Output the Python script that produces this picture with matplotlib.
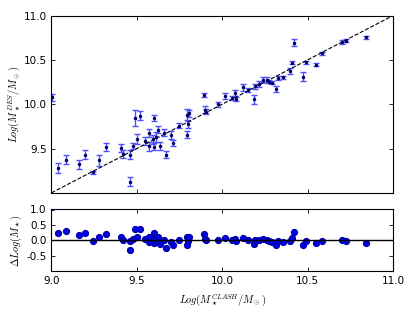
import numpy as np
import matplotlib
matplotlib.use("Agg")
import matplotlib.pyplot as plt

plt.rcParams['mathtext.fontset'] = 'cm'
plt.rcParams['xtick.direction'] = 'in'
plt.rcParams['ytick.direction'] = 'in'

## stellar masses, CLASH (x) vs DES residual
log_m_clash = [9.006, 9.039, 9.085, 9.164, 9.199, 9.241, 9.276, 9.321, 9.405, 9.418,
               9.457, 9.459, 9.477, 9.487, 9.498, 9.520, 9.545, 9.570, 9.574, 9.594,
               9.598, 9.603, 9.613, 9.623, 9.638, 9.658, 9.672, 9.701, 9.714, 9.748,
               9.792, 9.794, 9.802, 9.808, 9.891, 9.897, 9.907, 9.977, 10.014, 10.057,
               10.072, 10.078, 10.119, 10.151, 10.186, 10.192, 10.215, 10.238, 10.262, 10.275,
               10.294, 10.314, 10.326, 10.353, 10.394, 10.409, 10.423, 10.472, 10.491, 10.548,
               10.583, 10.701, 10.727, 10.843]
delta_log_m = [1.07, 0.24, 0.29, 0.16, 0.23, -0.01, 0.09, 0.20, 0.10, 0.02,
               -0.33, -0.03, 0.05, 0.36, 0.11, 0.35, 0.04, 0.10, -0.05, 0.01,
               -0.08, 0.24, 0.02, 0.09, -0.11, 0.02, -0.24, -0.05, -0.15, 0.01,
               0.09, -0.14, -0.03, 0.09, 0.21, 0.04, 0.01, 0.02, 0.08, 0.01,
               0.05, -0.02, 0.07, 0.01, -0.13, 0.01, 0.01, 0.04, 0.01, -0.02,
               -0.05, -0.14, -0.03, -0.05, -0.02, 0.06, 0.27, -0.16, -0.02, -0.10,
               -0.01, 0.00, -0.01, -0.09]
err_des = [0.035, 0.06, 0.055, 0.05, 0.05, 0.02, 0.06, 0.045, 0.05, 0.04,
           0.055, 0.05, 0.03, 0.09, 0.06, 0.05, 0.05, 0.045, 0.05, 0.05,
           0.04, 0.03, 0.055, 0.04, 0.05, 0.04, 0.04, 0.045, 0.035, 0.03,
           0.06, 0.04, 0.035, 0.04, 0.02, 0.04, 0.03, 0.03, 0.03, 0.02,
           0.035, 0.025, 0.04, 0.02, 0.05, 0.03, 0.035, 0.025, 0.03, 0.02,
           0.02, 0.035, 0.02, 0.02, 0.03, 0.02, 0.04, 0.055, 0.02, 0.02,
           0.02, 0.02, 0.02, 0.02]

x = np.array(log_m_clash)
dy = np.array(delta_log_m)
y = x + dy

fig = plt.figure(figsize=(4.15, 3.12), dpi=100)
ax1 = fig.add_axes([0.124, 0.382, 0.823, 0.568])
ax2 = fig.add_axes([0.124, 0.131, 0.823, 0.198])

##---------------- top panel: DES vs CLASH ----------------
ax1.errorbar(x, y, yerr=err_des, fmt='.', color='#000066', ms=3,
             ecolor='#5050ff', elinewidth=1, capsize=2, capthick=1)
ax1.plot([9, 11], [9, 11], 'k--', lw=0.8)
ax1.set_xlim(9.0, 11.0)
ax1.set_ylim(9.0, 11.0)
ax1.set_yticks([9.5, 10.0, 10.5, 11.0])
ax1.set_xticks([9.0, 9.5, 10.0, 10.5, 11.0])
ax1.set_xticklabels([])
ax1.set_ylabel(r'$Log(M_\star^{DES}/M_\odot)$', fontsize=7.4, labelpad=1)

##---------------- bottom panel: residuals ----------------
ax2.plot(x, dy, 'o', color='#0000ee', mec='#0000aa', ms=4.2)
ax2.axhline(0, color='k', lw=1)
ax2.set_xlim(9.0, 11.0)
ax2.set_ylim(-1.0, 1.0)
ax2.set_yticks([-0.5, 0.0, 0.5, 1.0])
ax2.set_xticks([9.0, 9.5, 10.0, 10.5, 11.0])
ax2.set_ylabel(r'$\Delta Log(M_\star)$', fontsize=7.4, labelpad=2)
ax2.set_xlabel(r'$Log(M_\star^{CLASH}/M_\odot)$', fontsize=7.4)

for ax in (ax1, ax2):
    ax.tick_params(labelsize=7.5, top=True, right=True, length=3, width=0.6)
    for s in ax.spines.values():
        s.set_linewidth(0.8)
    ax.yaxis.set_major_formatter(matplotlib.ticker.FormatStrFormatter('%.1f'))
ax2.xaxis.set_major_formatter(matplotlib.ticker.FormatStrFormatter('%.1f'))

fig.savefig('out.png', dpi=100)
